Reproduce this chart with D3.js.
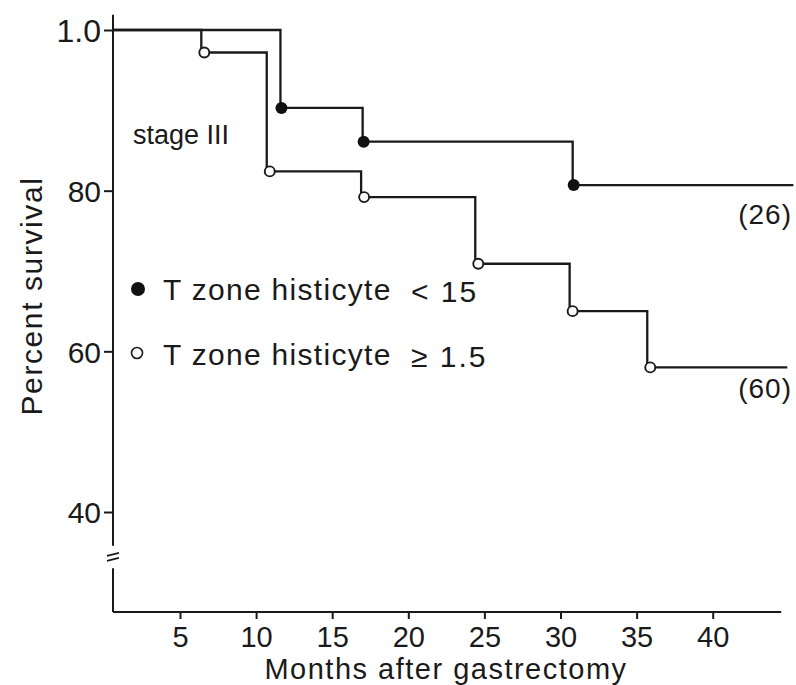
<!DOCTYPE html>
<html>
  <head>
    <meta charset="utf-8">
    <style>
      body { margin: 0; background: #fff; }
      text { font-family: "Liberation Sans", Arial, sans-serif; fill: #1a1a1a; }
      .axis path, .axis line { stroke: #1a1a1a; stroke-width: 2px; }
      .axis text { font-size: 30px; }
    </style>
  </head>
  <body>
    <script src="https://d3js.org/d3.v7.min.js"></script>
    <script>
    var width = 796, height = 685;

    // survival data (months, percent)
    var lowTimes = [0, 11.6, 17.0, 30.8];
    var lowValues = [100, 90.3, 86.1, 80.7];
    var lowEnd = 45.3;
    var highTimes = [0, 6.4, 10.7, 16.9, 24.4, 30.6, 35.7];
    var highValues = [100, 97.2, 82.4, 79.2, 70.9, 65.0, 58.0];
    var highEnd = 44.9;

    var xTicks = [5, 10, 15, 20, 25, 30, 35, 40];
    var yTicks = [40, 60, 80, 100];
    var yTickLabels = ["40", "60", "80", "1.0"];
    var legendLabels = ["T zone histicyte", "T zone histicyte"];
    var legendCuts = ["< 15", "\u2265 1.5"];
    var endLabels = ["(26)", "(60)"];

    var svg = d3.select("body")
        .append("svg")
        .attr("width", width)
        .attr("height", height);

    var x = d3.scaleLinear().domain([0, 45]).range([103.9, 788.8]);
    var y = d3.scaleLinear().domain([40, 100]).range([512, 30]);

    var axisX = 113, axisY = 612;

    // y axis (broken near the bottom)
    var yAxis = svg.append("g")
        .attr("class", "axis")
        .attr("transform", "translate(" + axisX + ",0)")
        .call(d3.axisLeft(y).tickValues(yTicks).tickSize(9).tickPadding(3)
          .tickFormat(function(d, i) { return yTickLabels[i]; }));
    yAxis.select(".domain").remove();
    yAxis.selectAll("text").attr("dy", "0.36em");
    yAxis.selectAll("text").filter(function(d) { return d == 100; }).style("font-size", "32px");

    svg.append("line").attr("x1", axisX).attr("x2", axisX)
        .attr("y1", y(101.9)).attr("y2", y(35.8))
        .attr("stroke", "#1a1a1a").attr("stroke-width", 2);
    svg.append("line").attr("x1", axisX).attr("x2", axisX)
        .attr("y1", y(33)).attr("y2", axisY)
        .attr("stroke", "#1a1a1a").attr("stroke-width", 2);
    // break marks
    [-2.5, 2.5].forEach(function(o) {
      svg.append("line")
          .attr("x1", axisX - 6).attr("y1", y(34.4) + o + 1.5)
          .attr("x2", axisX + 6).attr("y2", y(34.4) + o - 1.5)
          .attr("stroke", "#1a1a1a").attr("stroke-width", 1.8);
    });

    // x axis
    var xAxis = svg.append("g")
        .attr("class", "axis")
        .attr("transform", "translate(0," + axisY + ")")
        .call(d3.axisBottom(x).tickValues(xTicks).tickSize(7).tickSizeOuter(0).tickPadding(7));
    xAxis.select(".domain").attr("d", "M" + axisX + ",0H" + (x(44.5)));
    xAxis.selectAll("text").style("font-size", "29px");

    // step curves
    function stepPath(times, values, end) {
      var pts = times.map(function(t, i) { return [x(t), y(values[i])]; });
      pts.push([x(end), y(values[values.length - 1])]);
      if (pts[0][0] < axisX) pts[0][0] = axisX;
      return d3.line().curve(d3.curveStepAfter)(pts);
    }

    svg.append("path")
        .attr("d", stepPath(lowTimes, lowValues, lowEnd))
        .attr("fill", "none").attr("stroke", "#1a1a1a").attr("stroke-width", 2.3);
    svg.append("path")
        .attr("d", stepPath(highTimes, highValues, highEnd))
        .attr("fill", "none").attr("stroke", "#1a1a1a").attr("stroke-width", 2.3);

    svg.selectAll(".lowdot")
        .data(lowTimes.slice(1))
        .enter().append("circle")
        .attr("cx", function(d) { return x(d) + 1; })
        .attr("cy", function(d, i) { return y(lowValues[i + 1]); })
        .attr("r", 6)
        .attr("fill", "#111");

    svg.selectAll(".highdot")
        .data(highTimes.slice(1))
        .enter().append("circle")
        .attr("cx", function(d) { return x(d) + 3; })
        .attr("cy", function(d, i) { return y(highValues[i + 1]); })
        .attr("r", 5)
        .attr("fill", "#fff").attr("stroke", "#1a1a1a").attr("stroke-width", 1.9);

    // end labels
    svg.append("text").attr("x", 792).attr("y", y(lowValues[lowValues.length - 1]) + 39)
        .attr("text-anchor", "end").style("font-size", "28px").style("letter-spacing", "1px")
        .text(endLabels[0]);
    svg.append("text").attr("x", 792).attr("y", y(highValues[highValues.length - 1]) + 31)
        .attr("text-anchor", "end").style("font-size", "28px").style("letter-spacing", "1px")
        .text(endLabels[1]);

    // stage label
    svg.append("text").attr("x", 133).attr("y", 144)
        .style("font-size", "27px").text("stage III");

    // legend
    svg.append("circle").attr("cx", 138).attr("cy", 289).attr("r", 7).attr("fill", "#111");
    svg.append("circle").attr("cx", 137).attr("cy", 353).attr("r", 5.5)
        .attr("fill", "#fff").attr("stroke", "#1a1a1a").attr("stroke-width", 1.6);
    [300, 365].forEach(function(by, i) {
      svg.append("text").attr("x", 163).attr("y", by)
          .style("font-size", "30px").style("letter-spacing", "1.3px")
          .text(legendLabels[i]);
      svg.append("text").attr("x", 411).attr("y", by + 2)
          .style("font-size", "30px").style("letter-spacing", "2px")
          .text(legendCuts[i]);
    });

    // axis titles
    svg.append("text")
        .attr("transform", "translate(42,296) rotate(-90)")
        .attr("text-anchor", "middle")
        .style("font-size", "30px").style("letter-spacing", "1.6px")
        .text("Percent survival");
    svg.append("text")
        .attr("x", 446).attr("y", 679)
        .attr("text-anchor", "middle")
        .style("font-size", "29px").style("letter-spacing", "1.5px")
        .text("Months after gastrectomy");
    </script>
  </body>
</html>
